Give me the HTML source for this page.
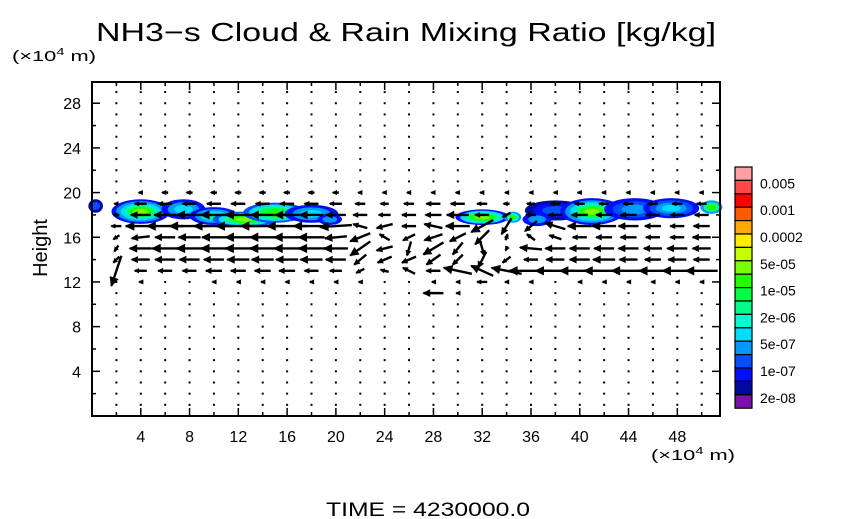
<!DOCTYPE html>
<html><head><meta charset="utf-8"><style>
body{margin:0;background:#fff;}
svg{display:block;font-family:"Liberation Sans",sans-serif;}
</style></head><body>
<svg id="chart" width="854" height="519" viewBox="0 0 854 519" xmlns="http://www.w3.org/2000/svg">
<rect width="854" height="519" fill="#fff"/>
<text x="406" y="41" font-size="26" text-anchor="middle" textLength="620" lengthAdjust="spacingAndGlyphs">NH3−s Cloud &amp; Rain Mixing Ratio [kg/kg]</text>
<text x="12" y="61" font-size="15" textLength="84" lengthAdjust="spacingAndGlyphs">(×10<tspan font-size="10" dy="-6">4</tspan><tspan dy="6"> m)</tspan></text>
<text x="651" y="460" font-size="15" textLength="84" lengthAdjust="spacingAndGlyphs">(×10<tspan font-size="10" dy="-6">4</tspan><tspan dy="6"> m)</tspan></text>
<text transform="translate(47,248) rotate(-90)" font-size="20" text-anchor="middle">Height</text>
<text x="428" y="516" font-size="19" text-anchor="middle" textLength="204" lengthAdjust="spacingAndGlyphs">TIME = 4230000.0</text>
<g id="clouds"></g>
<g id="vectors"></g>
<rect x="92" y="82" width="628" height="334" fill="none" stroke="#000" stroke-width="2"/>
<g id="axes"></g>
<g id="colorbar"></g>
</svg>
<script>
const xTicks=[4,8,12,16,20,24,28,32,36,40,44,48];
const yTicks=[4,8,12,16,20,24,28];
const cbColors=["#ffa0a0","#ff4848","#ff0000","#ff5a00","#ffaa00","#ffee00","#c8ff00","#78ff00","#20ff00","#00ff40","#00ff88","#00ffd0","#00ddff","#0099ff","#0050ff","#0010ff","#000aa0","#7a10b0"];
const cbLabels=["0.005","0.001","0.0002","5e-05","1e-05","2e-06","5e-07","1e-07","2e-08"];
const vecCols=[2,4,6,8,10,12,14,16,18,20,22,24,26,28,30,32,34,36,38,40,42,44,46,48,50];
const vecRows=[11,12,13,14,15,16,17,18,19,20];
const uRows=[
[0,0,0,0,0,0,0,0,0,0,0,0,0,-20,-3,0,0,0,0,0,0,0,0,0,0],
[-2,-3,-2,-2,-3,-3,-3,-3,-3,-3,-3,-2,-2,-3,-3,-10,-3,-3,-2,-3,-3,-3,-3,-3,-3],
[-10,-12,-14,-14,-16,-15,-16,-16,-14,-12,-8,-8,-12,-14,-28,-22,-30,-44,-40,-40,-40,-34,-28,-30,-32],
[-6,-18,-20,-20,-20,-22,-22,-22,-22,-20,-12,-14,-14,-14,-10,-8,-8,-14,-18,-20,-22,-18,-16,-18,-16],
[-4,-22,-26,-26,-26,-26,-26,-26,-26,-24,-20,-16,-4,-20,-10,4,-2,-22,-20,-20,-20,-20,-18,-20,-18],
[-6,-18,-20,-22,-24,-26,-26,-26,-26,-22,-20,-10,-12,-18,-16,-14,2,-8,-12,-14,-16,-16,-14,-14,-18],
[-10,-30,-36,-40,-40,-44,-44,-40,-36,-32,-14,-16,-14,-18,-24,-22,-10,-12,-20,-24,-24,-20,-16,-14,-16],
[-6,-20,-22,-26,-26,-26,-24,-24,-24,-20,-14,-12,-14,-16,-22,-14,-8,-10,-14,-16,-16,-16,-14,-14,-14],
[-4,-12,-14,-14,-14,-14,-14,-14,-14,-12,-10,-8,-10,-14,-14,-10,-6,-8,-10,-10,-10,-10,-10,-10,-10],
[-2,-4,-6,-6,-6,-6,-6,-6,-6,-6,-4,-4,-4,-4,-4,-4,-3,-3,-3,-4,-4,-4,-4,-4,-4]];
const vRows=[
[0,0,0,0,0,0,0,0,0,0,0,0,0,0,0,0,0,0,0,0,0,0,0,0,0],
[0,0,0,0,0,0,0,0,0,0,0,0,0,0,0,0,0,0,0,0,0,0,0,0,0],
[-30,0,0,0,0,0,0,0,0,0,-4,2,6,0,6,10,6,0,0,0,0,0,0,0,0],
[-6,0,0,0,0,0,0,0,0,0,-10,-6,-6,-10,-10,-16,-6,0,0,0,0,0,0,0,0],
[-6,0,0,0,0,0,0,0,0,0,-14,-4,-14,-12,-12,-14,-4,2,0,0,0,0,0,0,0],
[-4,-2,0,0,0,0,0,0,0,-2,-8,6,-6,-6,-8,-14,6,6,4,0,0,0,0,0,0],
[0,0,0,0,0,0,0,0,0,-2,4,-4,0,4,0,-12,-16,-10,6,0,0,0,0,0,0],
[0,0,0,0,0,0,0,0,0,0,0,0,0,0,0,0,-4,0,0,0,0,0,0,0,0],
[0,0,0,0,0,0,0,0,0,0,0,0,0,0,0,0,0,0,0,0,0,0,0,0,0],
[0,0,0,0,0,0,0,0,0,0,0,0,0,0,0,0,0,0,0,0,0,0,0,0,0]];
const NS="http://www.w3.org/2000/svg";
const X0=92,X1=720,Y0=416,Y1=82,XMAX=51.5,YMAX=29.9;
const sx=v=>X0+v/XMAX*(X1-X0);
const sy=v=>Y0-v/YMAX*(Y0-Y1);
function mk(tag,attrs,parent){const e=document.createElementNS(NS,tag);for(const k in attrs)e.setAttribute(k,attrs[k]);parent.appendChild(e);return e;}
const axes=document.getElementById('axes');
for(let i=2;i<=50;i+=2){
  const len=(i%4==0)?8:4;
  const t1=mk('line',{x1:sx(i),x2:sx(i),y1:Y0,y2:Y0-len,stroke:'#000','stroke-width':1.5},axes);
  
  const t2=mk('line',{x1:sx(i),x2:sx(i),y1:Y1,y2:Y1+len,stroke:'#000','stroke-width':1.5},axes);
  
}
for(let j=2;j<=28;j+=2){
  const len=(j%4==0)?8:4;
  const t1=mk('line',{x1:X0,x2:X0+len,y1:sy(j),y2:sy(j),stroke:'#000','stroke-width':1.5},axes);
  
  const t2=mk('line',{x1:X1,x2:X1-len,y1:sy(j),y2:sy(j),stroke:'#000','stroke-width':1.5},axes);
  
}
xTicks.forEach(v=>{const t=mk('text',{x:sx(v),y:442,'font-size':16,'text-anchor':'middle'},axes);t.textContent=v;
});
yTicks.forEach(v=>{const t=mk('text',{x:81,y:sy(v)+6,'font-size':16,'text-anchor':'end'},axes);t.textContent=v;
});
// clouds
const cl=document.getElementById('clouds');
const blobs=[
 [4,18.3,2.4,1.1,[15,13,12,10,8,7]],[7.5,18.5,1.8,0.9,[15,13,12]],[10,17.9,2,0.8,[15,13,12,10]],
 [12.5,17.6,2.6,0.7,[14,12,10,8,7]],[15,18.2,2.6,0.9,[14,12,10,9,8]],[18,18.1,2.2,0.8,[15,13,12]],
 [19.5,17.6,1,0.5,[15,13]],[0.3,18.8,0.6,0.6,[16,14]],
 [32,17.8,2.2,0.7,[15,12,10,8,7]],[34.5,17.8,0.7,0.5,[13,11,8]],
 [38,18.4,2.5,0.9,[16,15,14]],[41,18.3,2.6,1.2,[15,13,12,10,8,7]],[44.5,18.5,2.5,1,[15,14,13]],
 [47.5,18.6,2.3,0.9,[15,14,13,12]],[50.8,18.7,0.9,0.6,[13,10,8]],[36.5,17.6,1.2,0.6,[15,13]]];
blobs.forEach(b=>{const n=b[4].length;b[4].forEach((ci,k)=>{const f=1-k/(n+0.5);
 const e=mk('ellipse',{cx:sx(b[0]),cy:sy(b[1]),rx:b[2]*f*(X1-X0)/XMAX,ry:b[3]*f*(Y0-Y1)/YMAX,fill:cbColors[ci]},cl);
 });});
// vectors
const vg=document.getElementById('vectors');
function arrow(x,y,u,v){
  const L=Math.hypot(u,v);
  if(L<2.5){const d=mk('rect',{x:x-1,y:y-1,width:2,height:2,fill:'#000'},vg);
    return;}
  const x2=x+u/2,y2=y-v/2,x1=x-u/2,y1=y+v/2;
  const g=mk('g',{},vg);
  
  mk('line',{x1:x1,y1:y1,x2:x2,y2:y2,stroke:'#000','stroke-width':2.4},g);
  const a=Math.atan2(-v,u),h=Math.min(9,Math.max(4,L*0.35));
  const p=[[x2,y2],[x2-h*Math.cos(a-0.45),y2-h*Math.sin(a-0.45)],[x2-h*Math.cos(a+0.45),y2-h*Math.sin(a+0.45)]];
  mk('polygon',{points:p.map(q=>q.join(',')).join(' '),fill:'#000',stroke:'#000','stroke-width':1},g);
}
for(let r=1;r<=29;r++){
  const ri=vecRows.indexOf(r);
  vecCols.forEach((c,ci)=>{
    let u=0,v=0;
    if(ri>=0){u=uRows[ri][ci];v=vRows[ri][ci];}
    arrow(sx(c),sy(r),u,v);
  });
}
// colorbar
const cb=document.getElementById('colorbar');
const cbTop=167,bh=13.4;
cbColors.forEach((c,i)=>{const r=mk('rect',{x:735,y:cbTop+i*bh,width:17,height:bh,fill:c,stroke:'#000','stroke-width':1.2},cb);
 });
cbLabels.forEach((l,i)=>{const t=mk('text',{x:760,y:cbTop+(2*i+1)*bh+8,'font-size':14},cb);t.textContent=l;
 });
</script>
</body></html>
